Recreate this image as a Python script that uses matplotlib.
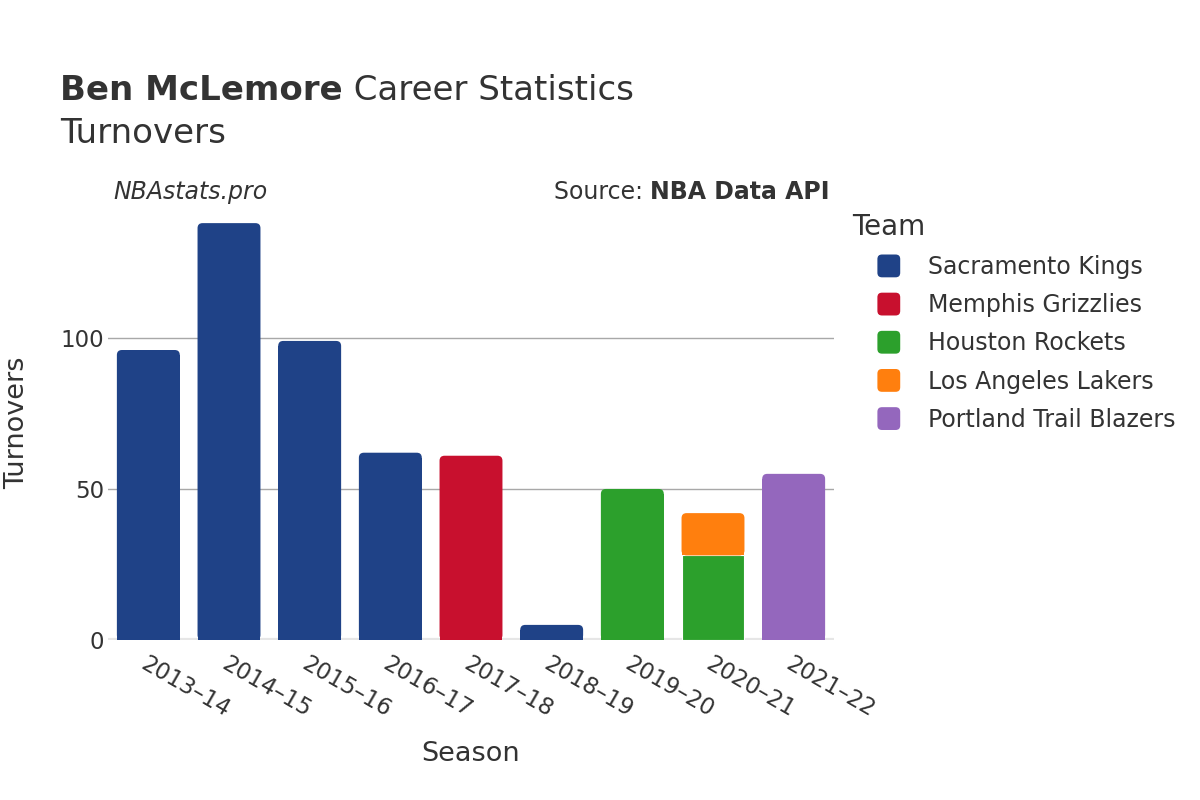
import matplotlib
matplotlib.use("Agg")
import matplotlib.pyplot as plt
from matplotlib.patches import FancyBboxPatch
from matplotlib.legend_handler import HandlerPatch
import numpy as np

seasons = ["2013–14", "2014–15", "2015–16", "2016–17", "2017–18",
           "2018–19", "2019–20", "2020–21", "2021–22"]
teams = ["Sacramento Kings", "Memphis Grizzlies", "Houston Rockets",
         "Los Angeles Lakers", "Portland Trail Blazers"]
colors = ["#1f4287", "#c8102e", "#2ca02c", "#ff7f0e", "#9467bd"]
kings = [96, 138, 99, 62, 0, 5, 0, 0, 0]
grizzlies = [0, 0, 0, 0, 61, 0, 0, 0, 0]
rockets = [0, 0, 0, 0, 0, 0, 50, 28, 0]
lakers = [0, 0, 0, 0, 0, 0, 0, 14, 0]
blazers = [0, 0, 0, 0, 0, 0, 0, 0, 55]
series = [kings, grizzlies, rockets, lakers, blazers]

txt = "#333333"
W, H = 1200, 800
fig = plt.figure(figsize=(12, 8), dpi=100)
ax = fig.add_axes([108 / W, 1 - 640 / H, 726 / W, 435 / H])

x = np.arange(len(seasons))
width = 0.78
ymax = 144
ax.set_xlim(-0.5, len(seasons) - 0.5)
ax.set_ylim(0, ymax)

px_x = len(seasons) / 726
px_y = ymax / 435
r_px = 5
rx = r_px * px_x
ry = r_px * px_y

totals = np.sum(np.array(series), axis=0)
bottom = np.zeros(len(seasons))
for vals, col in zip(series, colors):
    vals = np.array(vals, dtype=float)
    bars = ax.bar(x, vals, width, bottom=bottom, color=col,
                  edgecolor="white", linewidth=0.8, zorder=3)
    for i, (b, v) in enumerate(zip(bars, vals)):
        if v <= 0:
            b.set_visible(False)
            continue
        top = bottom[i] + v
        if abs(top - totals[i]) < 1e-9:
            b.set_edgecolor("none")
            b.set_linewidth(0)
            b.set_height(max(v - ry, 0))
            fb = FancyBboxPatch((b.get_x(), bottom[i]), width, v,
                                boxstyle=f"round,pad=0,rounding_size={rx}",
                                mutation_aspect=ry / rx,
                                facecolor=col, edgecolor="none", zorder=3)
            ax.add_patch(fb)
    bottom = bottom + vals

ax.set_yticks([0, 50, 100])
ax.yaxis.grid(True, color="#a8a8a8", linewidth=1)
ax.set_axisbelow(True)
for s in ["top", "right", "left", "bottom"]:
    ax.spines[s].set_visible(False)
ax.axhline(0, color="#e6e6e6", linewidth=3, zorder=2)
ax.tick_params(axis="both", length=0, labelsize=16.5, colors=txt)
ax.tick_params(axis="y", pad=3)
ax.set_xticks(x)
ax.set_xticklabels(seasons, rotation=-30, ha="left", rotation_mode="anchor")
ax.tick_params(axis="x", pad=9)

ax.set_xlabel("Season", fontsize=19.5, color=txt, labelpad=14)
ax.set_ylabel("Turnovers", fontsize=19.5, color=txt, labelpad=22)

t1 = fig.text(60 / W, 1 - 100 / H, "Ben McLemore", fontsize=24.5, fontweight="bold",
              color=txt, va="baseline")
fig.canvas.draw()
bb = t1.get_window_extent()
fig.text(bb.x1 / W, 1 - 100 / H, " Career Statistics", fontsize=24.5, color=txt, va="baseline")
fig.text(60 / W, 1 - 143 / H, "Turnovers", fontsize=24.5, color=txt, va="baseline")
fig.text(113 / W, 1 - 199 / H, "NBAstats.pro", fontsize=17, style="italic", color=txt,
         va="baseline")
src = fig.text(830 / W, 1 - 199 / H, "NBA Data API", fontsize=17, fontweight="bold",
               color=txt, va="baseline", ha="right")
fig.canvas.draw()
bb = src.get_window_extent()
fig.text(bb.x0 / W, 1 - 199 / H, "Source: ", fontsize=17, color=txt, va="baseline",
         ha="right")

fig.text(852 / W, 1 - 235 / H, "Team", fontsize=20, color=txt, va="baseline")


class RoundHandler(HandlerPatch):
    def create_artists(self, legend, orig_handle, xdescent, ydescent, width, height,
                       fontsize, trans):
        s = min(width, height) * 1.08
        p = FancyBboxPatch((-xdescent + (width - s) / 2, -ydescent + (height - s) / 2), s, s,
                           boxstyle=f"round,pad=0,rounding_size={s * 0.2}",
                           facecolor=orig_handle.get_facecolor(), edgecolor="none",
                           transform=trans)
        return [p]


handles = [FancyBboxPatch((0, 0), 1, 1, facecolor=c, edgecolor="none") for c in colors]
leg = fig.legend(handles, teams, loc="upper left", bbox_to_anchor=(877 / W, 1 - 255 / H),
                 frameon=False, fontsize=17, borderpad=0,
                 handlelength=1.0, handleheight=1.0, handletextpad=1.15,
                 labelspacing=0.6, borderaxespad=0,
                 handler_map={FancyBboxPatch: RoundHandler()})
for t in leg.get_texts():
    t.set_color(txt)

fig.savefig("out.png", dpi=100)
